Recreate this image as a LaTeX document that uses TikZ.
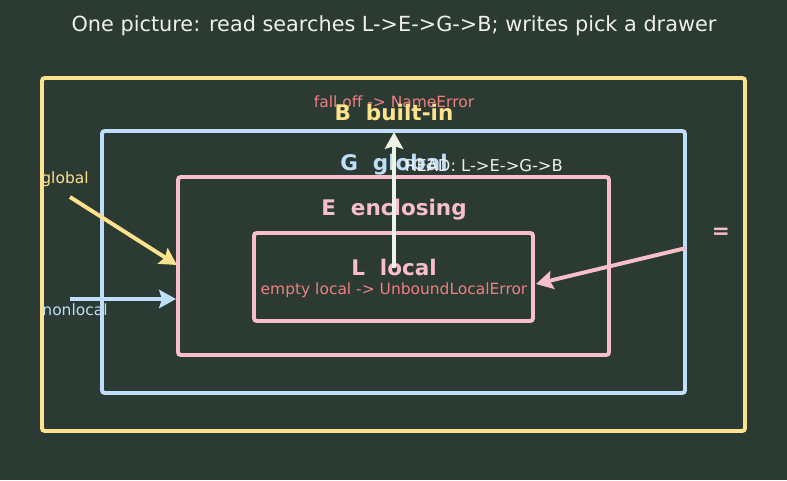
\documentclass[tikz,border=0pt]{standalone}
\usepackage{fontspec}
\setmainfont{DejaVu Sans}
\usetikzlibrary{arrows.meta, positioning}
\definecolor{bgdark}{RGB}{43,58,51}
\definecolor{scopeB}{RGB}{255,226,140}
\definecolor{scopeG}{RGB}{190,222,250}
\definecolor{scopeE}{RGB}{248,190,205}
\definecolor{errtxt}{RGB}{240,128,128}
\definecolor{readarr}{RGB}{238,244,228}
\definecolor{titletxt}{RGB}{240,240,236}

\tikzset{
  scopebox/.style={line width=2.8pt, rounded corners=2pt},
  scopelabel/.style={font=\fontsize{15.3}{18}\selectfont\bfseries},
  smalltxt/.style={font=\fontsize{11}{13}\selectfont},
  bigarrow/.style={line width=2.8pt, -{Stealth[length=12pt, width=13pt, inset=2pt]}}
}

\begin{document}
\begin{tikzpicture}[x=0.025cm, y=-0.025cm]
    \useasboundingbox[fill=bgdark] (0,0) rectangle (787,480);
    \node[font=\fontsize{14.8}{17}\selectfont, text=titletxt] (title) at (394,26)
      {One picture: read searches L->E->G->B; writes pick a drawer};

    % nested scopes
    \draw[scopebox, draw=scopeB] (42,78) rectangle (745,431);
    \draw[scopebox, draw=scopeG] (102,131) rectangle (685,393);
    \draw[scopebox, draw=scopeE] (178,177) rectangle (609,355);
    \draw[scopebox, draw=scopeE] (254,233) rectangle (533,321);

    \node[smalltxt, text=errtxt] (fallOff) at (394,102) {fall off -> NameError};
    \node[scopelabel, text=scopeB] (lblB) at (394,112) {B\ \ built-in};
    \node[scopelabel, text=scopeG] (lblG) at (394,165) {G\ \ global};
    \node[scopelabel, text=scopeE] (lblE) at (394,210) {E\ \ enclosing};
    \node[scopelabel, text=scopeE] (lblL) at (394,267) {L\ \ local};
    \node[smalltxt, text=errtxt] (unbound) at (394,290) {empty local -> UnboundLocalError};

    % read path
    \coordinate (readStart) at (394,268);
    \coordinate (readEnd) at (394,132);
    \draw[bigarrow, draw=readarr, fill=readarr] (readStart) -- (readEnd);
    \node[font=\fontsize{11.6}{14}\selectfont, text=titletxt] (readLbl) at (484,166) {READ: L->E->G->B};

    % writes
    \node[smalltxt, text=scopeB] (globalLbl) at (65,179) {global};
    \coordinate (globalStart) at (70,197);
    \coordinate (globalEnd) at (177,265);
    \draw[bigarrow, draw=scopeB, fill=scopeB] (globalStart) -- (globalEnd);

    \node[smalltxt, text=scopeG] (nonlocalLbl) at (75,310) {nonlocal};
    \coordinate (nonlocalStart) at (70,299);
    \coordinate (nonlocalEnd) at (176,299);
    \draw[bigarrow, draw=scopeG, fill=scopeG] (nonlocalStart) -- (nonlocalEnd);

    \node[scopelabel, text=scopeE] (assignLbl) at (721,233) {=};
    \coordinate (assignStart) at (686,248);
    \coordinate (assignEnd) at (536,284);
    \draw[bigarrow, draw=scopeE, fill=scopeE] (assignStart) -- (assignEnd);
  \end{tikzpicture}
\end{document}
